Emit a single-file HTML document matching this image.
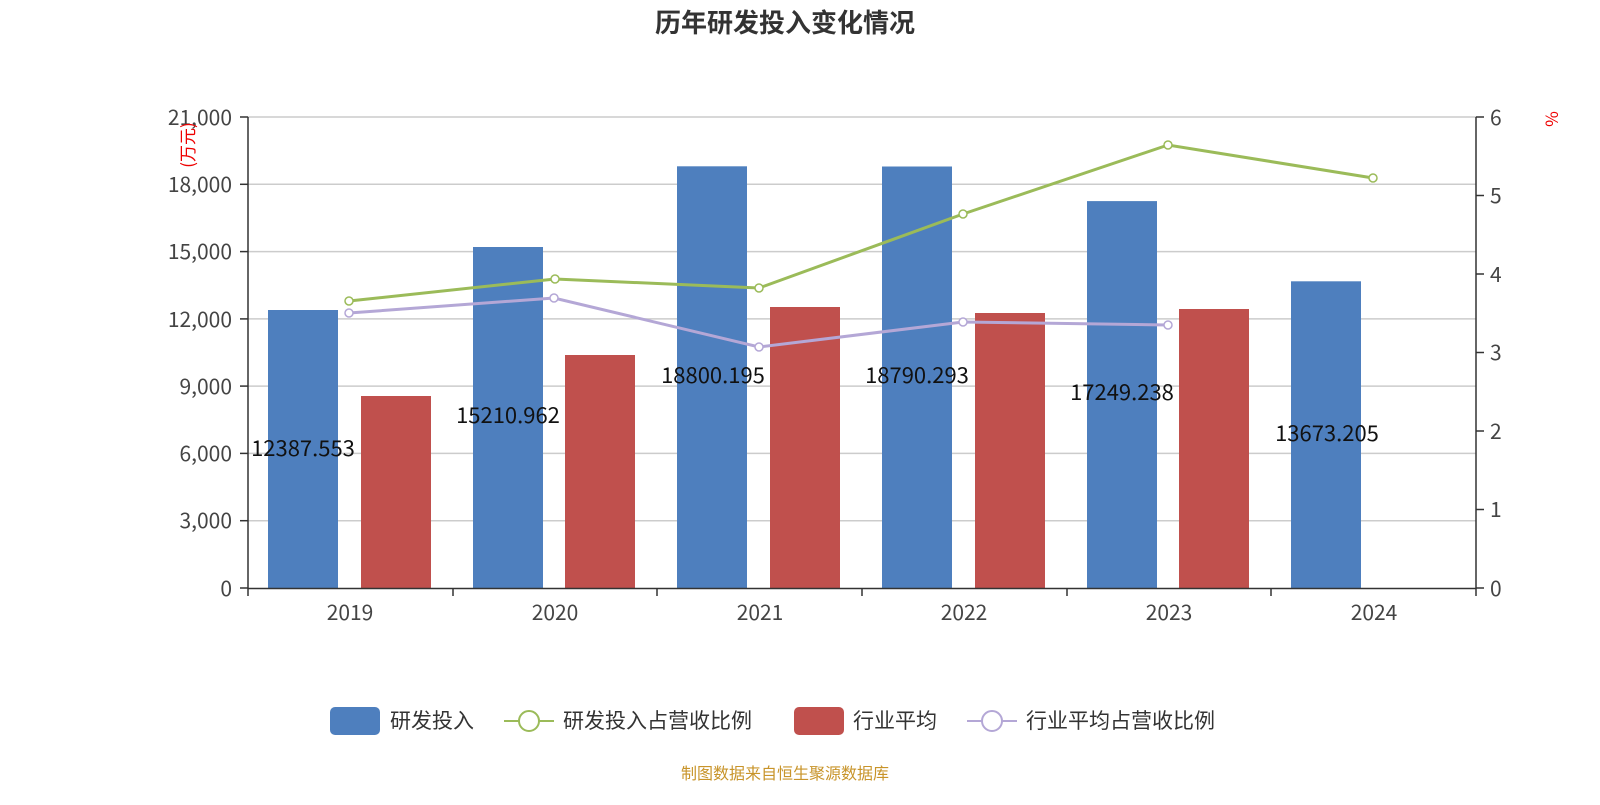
<!DOCTYPE html>
<html><head><meta charset="utf-8"><style>
body{margin:0;background:#fff;width:1600px;height:800px;overflow:hidden}
text{font-family:"Noto Sans CJK SC","Liberation Sans",sans-serif}
</style></head><body>
<svg width="1600" height="800" xmlns="http://www.w3.org/2000/svg">
<text x="785" y="32" text-anchor="middle" font-size="26" font-weight="bold" fill="#333">历年研发投入变化情况</text>
<g stroke="#ccc" stroke-width="1.5">
<line x1="248" x2="1476" y1="117" y2="117"/><line x1="248" x2="1476" y1="184.3" y2="184.3"/>
<line x1="248" x2="1476" y1="251.6" y2="251.6"/><line x1="248" x2="1476" y1="318.9" y2="318.9"/>
<line x1="248" x2="1476" y1="386.1" y2="386.1"/><line x1="248" x2="1476" y1="453.4" y2="453.4"/>
<line x1="248" x2="1476" y1="520.7" y2="520.7"/>
</g>
<g fill="#4e7fbe">
<rect x="268" y="310" width="70" height="278"/><rect x="473" y="247" width="70" height="341"/>
<rect x="677" y="166.3" width="70" height="421.7"/><rect x="882" y="166.5" width="70" height="421.5"/>
<rect x="1087" y="201.1" width="70" height="386.9"/><rect x="1291" y="281.3" width="70" height="306.7"/>
</g>
<g fill="#c0504d">
<rect x="361" y="396" width="70" height="192"/><rect x="565" y="355" width="70" height="233"/>
<rect x="770" y="307" width="70" height="281"/><rect x="975" y="313" width="70" height="275"/>
<rect x="1179" y="309" width="70" height="279"/>
</g>
<g stroke="#333" stroke-width="1.5">
<line x1="248" x2="1476" y1="588.5" y2="588.5"/>
<line x1="248" x2="248" y1="117" y2="596"/><line x1="1476" x2="1476" y1="117" y2="596"/>
<line x1="453" x2="453" y1="588" y2="596"/><line x1="657" x2="657" y1="588" y2="596"/>
<line x1="862" x2="862" y1="588" y2="596"/><line x1="1067" x2="1067" y1="588" y2="596"/>
<line x1="1271" x2="1271" y1="588" y2="596"/>
<line x1="240" x2="248" y1="117" y2="117"/><line x1="240" x2="248" y1="184.3" y2="184.3"/>
<line x1="240" x2="248" y1="251.6" y2="251.6"/><line x1="240" x2="248" y1="318.9" y2="318.9"/>
<line x1="240" x2="248" y1="386.1" y2="386.1"/><line x1="240" x2="248" y1="453.4" y2="453.4"/>
<line x1="240" x2="248" y1="520.7" y2="520.7"/><line x1="240" x2="248" y1="588" y2="588"/>
<line x1="1476" x2="1484" y1="117" y2="117"/><line x1="1476" x2="1484" y1="195.5" y2="195.5"/>
<line x1="1476" x2="1484" y1="274" y2="274"/><line x1="1476" x2="1484" y1="352.5" y2="352.5"/>
<line x1="1476" x2="1484" y1="431" y2="431"/><line x1="1476" x2="1484" y1="509.5" y2="509.5"/>
<line x1="1476" x2="1484" y1="588" y2="588"/>
</g>
<g font-size="21" fill="#444" text-anchor="end">
<text x="232" y="125">21,000</text><text x="232" y="192">18,000</text><text x="232" y="259">15,000</text>
<text x="232" y="327">12,000</text><text x="232" y="394">9,000</text><text x="232" y="461">6,000</text>
<text x="232" y="528">3,000</text><text x="232" y="596">0</text>
</g>
<g font-size="21" fill="#444">
<text x="1490" y="125">6</text><text x="1490" y="203">5</text><text x="1490" y="282">4</text>
<text x="1490" y="360">3</text><text x="1490" y="439">2</text><text x="1490" y="517">1</text><text x="1490" y="596">0</text>
</g>
<g font-size="21" fill="#444" text-anchor="middle">
<text x="350" y="620">2019</text><text x="555" y="620">2020</text><text x="760" y="620">2021</text>
<text x="964" y="620">2022</text><text x="1169" y="620">2023</text><text x="1374" y="620">2024</text>
</g>
<text transform="translate(194,145) rotate(-90)" font-size="17" fill="#e00" text-anchor="middle">(万元)</text>
<text x="1552" y="125" font-size="17" fill="#e00" text-anchor="middle" transform="rotate(-90,1552,119)">%</text>
<polyline points="349,301 555,279 759,288 963,214 1168,145 1373,178" fill="none" stroke="#9bbb59" stroke-width="3"/>
<g fill="#fff" stroke="#9bbb59" stroke-width="1.5">
<circle cx="349" cy="301" r="4"/><circle cx="555" cy="279" r="4"/><circle cx="759" cy="288" r="4"/>
<circle cx="963" cy="214" r="4"/><circle cx="1168" cy="145" r="4"/><circle cx="1373" cy="178" r="4"/>
</g>
<polyline points="349,313 554,298 759,347 963,322 1168,325" fill="none" stroke="#b4a7d6" stroke-width="3"/>
<g fill="#fff" stroke="#b4a7d6" stroke-width="1.5">
<circle cx="349" cy="313" r="4"/><circle cx="554" cy="298" r="4"/><circle cx="759" cy="347" r="4"/>
<circle cx="963" cy="322" r="4"/><circle cx="1168" cy="325" r="4"/>
</g>
<g font-size="22" fill="#111" text-anchor="middle">
<text x="303" y="456">12387.553</text><text x="508" y="423">15210.962</text><text x="713" y="383">18800.195</text>
<text x="917" y="383">18790.293</text><text x="1122" y="400">17249.238</text><text x="1327" y="441">13673.205</text>
</g>
<rect x="330" y="707" width="50" height="28" rx="5" fill="#4e7fbe"/>
<text x="390" y="728" font-size="21" fill="#333">研发投入</text>
<line x1="504" x2="554" y1="721" y2="721" stroke="#9bbb59" stroke-width="2"/>
<circle cx="529" cy="721" r="10" fill="#fff" stroke="#9bbb59" stroke-width="2"/>
<text x="563" y="728" font-size="21" fill="#333">研发投入占营收比例</text>
<rect x="794" y="707" width="50" height="28" rx="5" fill="#c0504d"/>
<text x="853" y="728" font-size="21" fill="#333">行业平均</text>
<line x1="967" x2="1017" y1="721" y2="721" stroke="#b4a7d6" stroke-width="2"/>
<circle cx="992" cy="721" r="10" fill="#fff" stroke="#b4a7d6" stroke-width="2"/>
<text x="1026" y="728" font-size="21" fill="#333">行业平均占营收比例</text>
<text x="785" y="779" font-size="16" fill="#c8942a" text-anchor="middle">制图数据来自恒生聚源数据库</text>
</svg>
</body></html>
